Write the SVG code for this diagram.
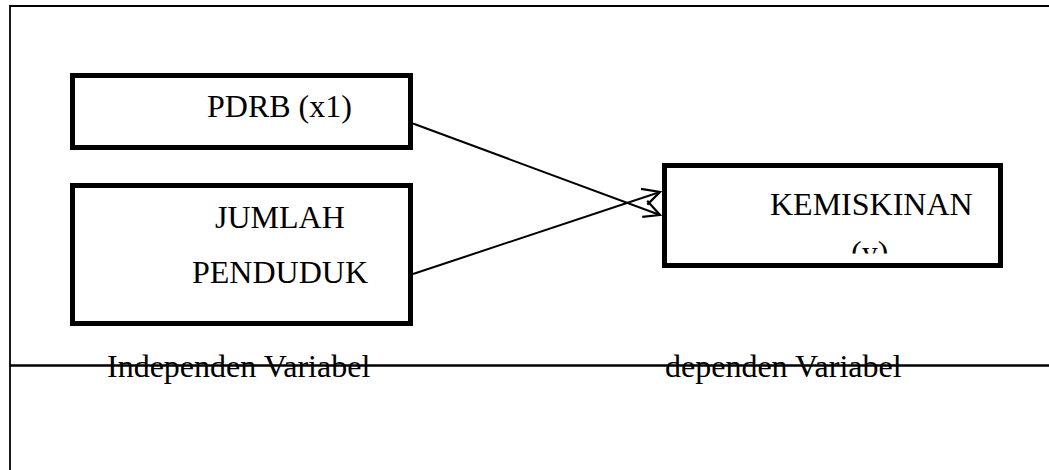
<svg xmlns="http://www.w3.org/2000/svg" width="1049" height="470" viewBox="0 0 1049 470">
<style>
.box{fill:#fff;stroke:#000;stroke-width:5}
.t{font-family:"Liberation Serif","Times New Roman",serif;font-size:32px;fill:#000}
.con{stroke:#000;stroke-width:2;fill:none}
.frame{stroke:#000;fill:none}
</style>
<defs>
<marker id="ah" markerUnits="userSpaceOnUse" markerWidth="24" markerHeight="24" viewBox="-20 -12 24 24" refX="0" refY="0" orient="auto">
<path d="M-17,-9 L0,0 L-16,8" fill="none" stroke="#000" stroke-width="2.2"/>
</marker>
<clipPath id="kclip"><rect x="667" y="168" width="331" height="85.5"/></clipPath>
</defs>
<g id="frame">
<path class="frame" d="M10,470 V6 H1049" stroke-width="1.8"/>
<line class="frame" x1="10" y1="365.5" x2="1049" y2="365.5" stroke-width="2.4"/>
</g>
<g id="connectors">
<line class="con" x1="413" y1="123.5" x2="660" y2="215" marker-end="url(#ah)"/>
<line class="con" x1="413" y1="274" x2="660" y2="192" marker-end="url(#ah)"/>
</g>
<g id="node-pdrb">
<rect class="box" x="72.5" y="75.5" width="338" height="72"/>
<text class="t" x="207" y="117">PDRB (x1)</text>
</g>
<g id="node-jumlah">
<rect class="box" x="72.5" y="185.5" width="338" height="138"/>
<text class="t" x="215" y="228">JUMLAH</text>
<text class="t" x="192" y="283">PENDUDUK</text>
</g>
<g id="node-kemiskinan">
<rect class="box" x="664.5" y="165.5" width="336" height="100"/>
<text class="t" x="770" y="215">KEMISKINAN</text>
<text class="t" x="851" y="263" clip-path="url(#kclip)">(y)</text>
</g>
<g id="labels">
<text class="t" x="107" y="376.5">Independen Variabel</text>
<text class="t" x="665" y="376.5">dependen Variabel</text>
</g>
</svg>
